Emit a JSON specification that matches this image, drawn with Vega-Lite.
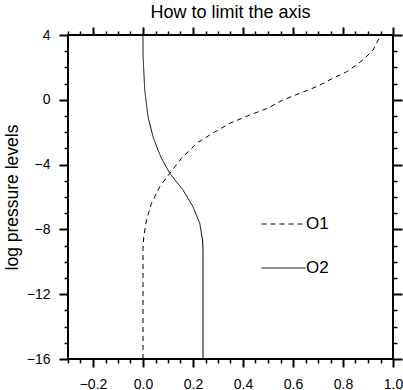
{
  "$schema": "https://vega.github.io/schema/vega-lite/v6.json",
  "autosize": {"type": "none"},
  "padding": {"left": 68, "top": 35, "right": 10, "bottom": 31},
  "width": 325,
  "height": 324,
  "title": {"text": "How to limit the axis", "fontSize": 18, "font": "Liberation Sans", "fontWeight": "normal", "color": "black", "frame": "group", "anchor": "middle", "offset": 4},
  "config": {
    "view": {"stroke": "black", "strokeWidth": 2},
    "font": "Liberation Sans",
    "axis": {"grid": false, "domain": false, "tickColor": "black", "labelColor": "black", "labelFont": "Liberation Sans", "labelFontSize": 14, "titleFont": "Liberation Sans", "titleColor": "black", "titleFontWeight": "normal"}
  },
  "data": {"values": [
    {"s": "O1", "x": 0.0, "y": -16},
    {"s": "O1", "x": 0.0, "y": -12},
    {"s": "O1", "x": 0.0, "y": -9.2},
    {"s": "O1", "x": 0.003, "y": -8.45},
    {"s": "O1", "x": 0.014, "y": -7.42},
    {"s": "O1", "x": 0.034, "y": -6.39},
    {"s": "O1", "x": 0.067, "y": -5.36},
    {"s": "O1", "x": 0.107, "y": -4.54},
    {"s": "O1", "x": 0.154, "y": -3.61},
    {"s": "O1", "x": 0.214, "y": -2.69},
    {"s": "O1", "x": 0.267, "y": -2.17},
    {"s": "O1", "x": 0.347, "y": -1.45},
    {"s": "O1", "x": 0.427, "y": -0.94},
    {"s": "O1", "x": 0.5, "y": -0.51},
    {"s": "O1", "x": 0.56, "y": -0.01},
    {"s": "O1", "x": 0.627, "y": 0.4},
    {"s": "O1", "x": 0.694, "y": 0.81},
    {"s": "O1", "x": 0.76, "y": 1.33},
    {"s": "O1", "x": 0.814, "y": 1.73},
    {"s": "O1", "x": 0.854, "y": 2.15},
    {"s": "O1", "x": 0.887, "y": 2.56},
    {"s": "O1", "x": 0.92, "y": 3.07},
    {"s": "O1", "x": 0.947, "y": 3.86},
    {"s": "O1", "x": 0.95, "y": 4.0},
    {"s": "O2", "x": 0.0, "y": 4.0},
    {"s": "O2", "x": 0.0, "y": 2.77},
    {"s": "O2", "x": 0.003, "y": 1.84},
    {"s": "O2", "x": 0.007, "y": 0.6},
    {"s": "O2", "x": 0.02, "y": -1.04},
    {"s": "O2", "x": 0.04, "y": -2.28},
    {"s": "O2", "x": 0.06, "y": -3.1},
    {"s": "O2", "x": 0.074, "y": -3.61},
    {"s": "O2", "x": 0.107, "y": -4.54},
    {"s": "O2", "x": 0.16, "y": -5.57},
    {"s": "O2", "x": 0.2, "y": -6.6},
    {"s": "O2", "x": 0.227, "y": -7.62},
    {"s": "O2", "x": 0.238, "y": -8.65},
    {"s": "O2", "x": 0.24, "y": -9.17},
    {"s": "O2", "x": 0.24, "y": -12},
    {"s": "O2", "x": 0.24, "y": -16}
  ]},
  "resolve": {"axis": {"x": "independent", "y": "independent"}},
  "layer": [
    {
      "mark": {"type": "line", "color": "black", "strokeWidth": 1},
      "encoding": {
        "x": {"field": "x", "type": "quantitative", "scale": {"domain": [-0.3, 1.0], "nice": false, "zero": false},
          "axis": {"orient": "bottom", "title": null, "values": [-0.2, 0, 0.2, 0.4, 0.6, 0.8, 1.0], "format": ".1f", "tickSize": 8, "tickWidth": 2, "labelPadding": 10, "labelFlush": false, "labelOverlap": false}},
        "y": {"field": "y", "type": "quantitative", "scale": {"domain": [-16, 4], "nice": false, "zero": false},
          "axis": {"orient": "left", "title": "log pressure levels", "titleFontSize": 17.5, "titlePadding": 5, "values": [-16, -12, -8, -4, 0, 4], "format": "d", "tickSize": 9, "tickWidth": 2, "labelPadding": 9, "labelFlush": false, "labelOverlap": false}},
        "order": {"field": "y", "type": "quantitative"},
        "strokeDash": {"field": "s", "type": "nominal", "scale": {"domain": ["O1", "O2"], "range": [[5, 4], [1, 0]]},
          "legend": {"title": null, "orient": "none", "legendX": 193, "legendY": 166.5, "symbolType": "stroke", "symbolSize": 1936, "symbolStrokeWidth": 1, "symbolStrokeColor": "black", "labelFontSize": 17, "labelFont": "Liberation Sans", "labelColor": "black", "labelOffset": 0, "rowPadding": 13, "padding": 0}}
      }
    },
    {
      "mark": {"type": "point", "opacity": 0},
      "encoding": {
        "x": {"field": "x", "type": "quantitative", "axis": {"orient": "top", "title": null, "labels": false, "values": [-0.2, 0, 0.2, 0.4, 0.6, 0.8, 1.0], "tickSize": 8, "tickWidth": 2}},
        "y": {"field": "y", "type": "quantitative", "axis": {"orient": "right", "title": null, "labels": false, "values": [-16, -12, -8, -4, 0, 4], "tickSize": 9, "tickWidth": 2}}
      }
    },
    {
      "mark": {"type": "point", "opacity": 0},
      "encoding": {
        "x": {"field": "x", "type": "quantitative", "axis": {"orient": "bottom", "title": null, "labels": false, "values": [-0.3, -0.25, -0.15, -0.1, -0.05, 0.05, 0.1, 0.15, 0.25, 0.3, 0.35, 0.45, 0.5, 0.55, 0.65, 0.7, 0.75, 0.85, 0.9, 0.95], "tickSize": 4, "tickWidth": 1.5}},
        "y": {"field": "y", "type": "quantitative", "axis": {"orient": "left", "title": null, "labels": false, "values": [-15, -14, -13, -11, -10, -9, -7, -6, -5, -3, -2, -1, 1, 2, 3], "tickSize": 4, "tickWidth": 1.5}}
      }
    },
    {
      "mark": {"type": "point", "opacity": 0},
      "encoding": {
        "x": {"field": "x", "type": "quantitative", "axis": {"orient": "top", "title": null, "labels": false, "values": [-0.3, -0.25, -0.15, -0.1, -0.05, 0.05, 0.1, 0.15, 0.25, 0.3, 0.35, 0.45, 0.5, 0.55, 0.65, 0.7, 0.75, 0.85, 0.9, 0.95], "tickSize": 4, "tickWidth": 1.5}},
        "y": {"field": "y", "type": "quantitative", "axis": {"orient": "right", "title": null, "labels": false, "values": [-15, -14, -13, -11, -10, -9, -7, -6, -5, -3, -2, -1, 1, 2, 3], "tickSize": 4, "tickWidth": 1.5}}
      }
    }
  ]
}
